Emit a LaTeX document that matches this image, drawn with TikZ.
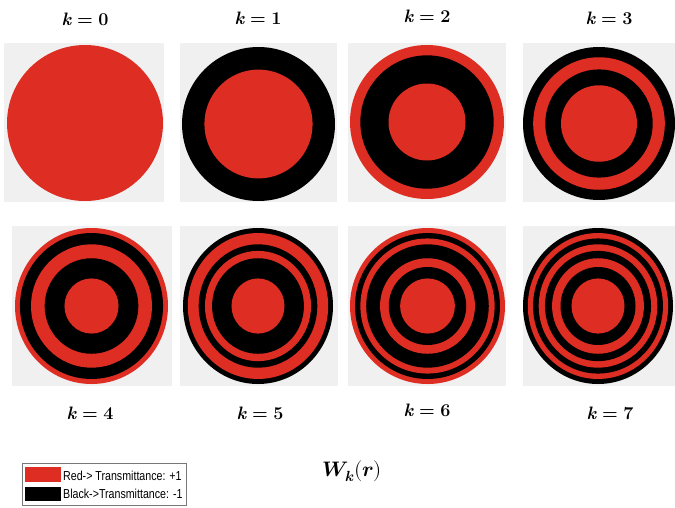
\documentclass[tikz,border=0pt]{standalone}
\usepackage{fontspec}
\usepackage{unicode-math}
\setmathfont{Latin Modern Math}
\setsansfont{Liberation Sans}
\definecolor{wred}{RGB}{222,45,34}
\definecolor{panelbg}{RGB}{240,240,240}
\definecolor{legborder}{RGB}{120,120,120}
\newcommand{\kk}{\textbf{\textit{k}}}
\newcommand{\klab}[1]{\kk\hspace{0.3em}\textbf{=}\hspace{0.3em}\textbf{#1}}
\tikzset{
  panel/.style={fill=panelbg, draw=none},
  klabel/.style={font=\fontsize{18}{21}\selectfont, anchor=center, inner sep=0pt},
  legtext/.style={font=\sffamily\fontsize{13}{15}\selectfont, anchor=west, inner sep=0pt, xscale=0.82, transform shape},
}
% \walshdisk{cx}{cy}{rx}{ry}{colours from outer to inner ring}
\newcommand{\walshdisk}[5]{%
  \foreach \cc [count=\ii] in {#5} {
    \fill[\cc] (#1,#2) ellipse [x radius={sqrt((9-\ii)/8)*#3pt}, y radius={sqrt((9-\ii)/8)*#4pt}];
  }%
}
\begin{document}
\begin{tikzpicture}[x=1pt,y=-1pt]
\useasboundingbox (0,0) rectangle (675,507);
% panels
\fill[panel] (4,43) rectangle (164,202);
\fill[panel] (180,43) rectangle (337,202);
\fill[panel] (348,43) rectangle (506,202);
\fill[panel] (523,43) rectangle (675,202);
\fill[panel] (12,226) rectangle (172,386);
\fill[panel] (180,226) rectangle (338,386);
\fill[panel] (348,226) rectangle (506,386);
\fill[panel] (523,226) rectangle (675,386);
% disks (outer ring first)
\walshdisk{85}{123}{78}{78}{wred,wred,wred,wred,wred,wred,wred,wred}
\walshdisk{258.5}{124}{76.5}{77}{black,black,black,black,wred,wred,wred,wred}
\walshdisk{427}{122}{77}{77}{wred,wred,black,black,black,black,wred,wred}
\walshdisk{599}{123.5}{76}{76.5}{black,black,wred,wred,black,black,wred,wred}
\walshdisk{91.5}{306}{76.5}{78}{wred,black,black,wred,wred,black,black,wred}
\walshdisk{258}{306}{75}{78}{black,wred,wred,black,wred,black,black,wred}
\walshdisk{427.5}{306}{77.5}{78}{wred,black,wred,black,black,wred,black,wred}
\walshdisk{598}{306}{75}{78}{black,wred,black,wred,black,wred,black,wred}
% labels
\node[klabel] (k0) at (85,19) {\klab{0}};
\node[klabel] (k1) at (258,18) {\klab{1}};
\node[klabel] (k2) at (427,16) {\klab{2}};
\node[klabel] (k3) at (609,18) {\klab{3}};
\node[klabel] (k4) at (90,413) {\klab{4}};
\node[klabel] (k5) at (260,413) {\klab{5}};
\node[klabel] (k6) at (427,410) {\klab{6}};
\node[klabel] (k7) at (610,413) {\klab{7}};
\node[klabel, font=\fontsize{21}{24}\selectfont] (wk) at (352,471) {$\symbfit{W}_{\symbfit{k}}(\symbfit{r})$};
% legend
\draw[legborder, line width=1pt, fill=white] (22,463) rectangle (186,505);
\fill[wred] (25,467) rectangle (61,482);
\fill[black] (25,487) rectangle (61,501);
\node[legtext] (lr) at (63,476) {Red-> Transmittance: +1};
\node[legtext] (lb) at (63,494) {Black->Transmittance: -1};
\end{tikzpicture}
\end{document}
